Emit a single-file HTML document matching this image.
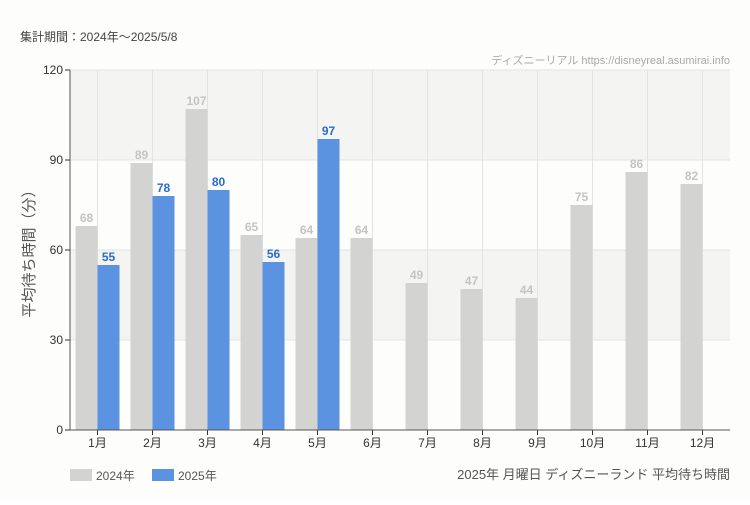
<!DOCTYPE html>
<html><head><meta charset="utf-8"><style>
body{margin:0;background:#fff;font-family:"Liberation Sans","Noto Sans CJK JP",sans-serif;}
</style></head><body>
<svg width="750" height="500" xmlns="http://www.w3.org/2000/svg" style="font-family:'Liberation Sans','Noto Sans CJK JP',sans-serif">
<rect width="750" height="500" fill="#fdfdfc"/>
<text x="20" y="41" font-size="12" fill="#444">集計期間：2024年～2025/5/8</text>
<text x="730" y="64" font-size="11" fill="#aaa" text-anchor="end">ディズニーリアル https://disneyreal.asumirai.info</text>
<text x="34" y="250" font-size="15" fill="#555" text-anchor="middle" transform="rotate(-90 34 250)">平均待ち時間（分）</text>
<g id="plot"></g>
<rect x="70" y="469" width="22" height="12" fill="#d3d3d1"/>
<text x="96" y="480" font-size="12" fill="#555">2024年</text>
<rect x="152" y="469" width="22" height="12" fill="#5b93e0"/>
<text x="178" y="480" font-size="12" fill="#555">2025年</text>
<text x="730" y="479" font-size="13" fill="#555" text-anchor="end">2025年 月曜日 ディズニーランド 平均待ち時間</text>
</svg>
<script>
const categories=['1月','2月','3月','4月','5月','6月','7月','8月','9月','10月','11月','12月'];
const values2024=[68,89,107,65,64,64,49,47,44,75,86,82];
const values2025=[55,78,80,56,97,null,null,null,null,null,null,null];
const yTicks=[0,30,60,90,120];
const NS='http://www.w3.org/2000/svg';
const L=70,R=730,T=70,B=430,ymax=120;
const cw=(R-L)/categories.length;
const y=v=>B-(v/ymax)*(B-T);
const xc=i=>L+cw*(i+0.5);
const g=document.getElementById('plot');
function mk(t,a){const e=document.createElementNS(NS,t);for(const k in a)e.setAttribute(k,a[k]);g.appendChild(e);return e;}
for(let k=0;k<yTicks.length-1;k++){
  const b=mk('rect',{x:L,y:y(yTicks[k+1]),width:R-L,height:y(yTicks[k])-y(yTicks[k+1]),fill:k%2?'#f4f4f3':'#fdfdfc'});
  
  
}
yTicks.forEach(v=>{
  const l=mk('line',{x1:L,x2:R,y1:y(v),y2:y(v),stroke:'#e3e3e3'});
  
  
  const tk=mk('line',{x1:L-5,x2:L,y1:y(v),y2:y(v),stroke:'#333'});
  
  
  const t=mk('text',{x:L-7,y:y(v)+4,'font-size':12,fill:'#333','text-anchor':'end'});
  t.textContent=v;
  
  
});
categories.forEach((c,i)=>{
  const l=mk('line',{x1:xc(i),x2:xc(i),y1:T,y2:B,stroke:'#e3e3e3'});
  
  
});
categories.forEach((c,i)=>{
  const a=values2024[i];
  if(a!=null){
    const r=mk('rect',{x:xc(i)-22,y:y(a),width:22,height:B-y(a),fill:'#d3d3d1'});
    
    
    const t=mk('text',{x:xc(i)-11,y:y(a)-4,'font-size':12,fill:'#c4c4c4','text-anchor':'middle','font-weight':'bold'});
    t.textContent=a;
    
    
  }
  const b=values2025[i];
  if(b!=null){
    const r=mk('rect',{x:xc(i),y:y(b),width:22,height:B-y(b),fill:'#5b93e0'});
    
    
    const t=mk('text',{x:xc(i)+11,y:y(b)-4,'font-size':12,fill:'#2a6dcc','text-anchor':'middle','font-weight':'bold'});
    t.textContent=b;
    
    
  }
  const tk=mk('line',{x1:xc(i),x2:xc(i),y1:B,y2:B+5,stroke:'#333'});
  
  
  const t=mk('text',{x:xc(i),y:B+17,'font-size':12,fill:'#333','text-anchor':'middle'});
  t.textContent=c;
  
  
});
const ya=mk('line',{x1:L,x2:L,y1:T,y2:B,stroke:'#555'});


const xa=mk('line',{x1:L,x2:R,y1:B,y2:B,stroke:'#555'});


</script>
</body></html>
